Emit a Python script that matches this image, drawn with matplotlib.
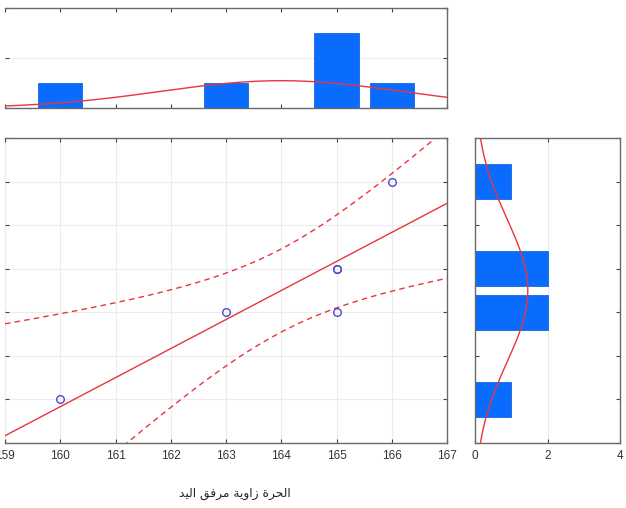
import numpy as np
import matplotlib
matplotlib.use("Agg")
import matplotlib.pyplot as plt

# ---- data -------------------------------------------------------------
elbow_angle = [160, 163, 165, 165, 165, 166]      # x variable
response = [12, 14, 14, 15, 15, 17]               # y variable
x_limits = (159, 167)
y_limits = (11, 18)
x_ticks = [159, 160, 161, 162, 163, 164, 165, 166, 167]
y_ticks = [11, 12, 13, 14, 15, 16, 17, 18]
count_ticks = [0, 2, 4]
x_title = "الحرة زاوية مرفق اليد"

BAR = "#0a6cff"
BAR_EDGE = "#0455d6"
RED = "#e8353d"
POINT = "#4a4ad2"
SPINE = "#6a6a6a"
GRID = "#ececec"
TXT = "#333333"

# ---- minimal Arabic shaping + right-to-left ordering ------------------
_FORMS = {  # isolated, final, initial, medial
    "ا": ("\uFE8D", "\uFE8E", None, None),
    "ل": ("\uFEDD", "\uFEDE", "\uFEDF", "\uFEE0"),
    "ح": ("\uFEA1", "\uFEA2", "\uFEA3", "\uFEA4"),
    "ر": ("\uFEAD", "\uFEAE", None, None),
    "ة": ("\uFE93", "\uFE94", None, None),
    "ز": ("\uFEAF", "\uFEB0", None, None),
    "و": ("\uFEED", "\uFEEE", None, None),
    "ي": ("\uFEF1", "\uFEF2", "\uFEF3", "\uFEF4"),
    "م": ("\uFEE1", "\uFEE2", "\uFEE3", "\uFEE4"),
    "ف": ("\uFED1", "\uFED2", "\uFED3", "\uFED4"),
    "ق": ("\uFED5", "\uFED6", "\uFED7", "\uFED8"),
    "د": ("\uFEA9", "\uFEAA", None, None),
}


def _shape_word(word):
    out = []
    for i, ch in enumerate(word):
        if ch not in _FORMS:
            out.append(ch)
            continue
        iso, fin, ini, med = _FORMS[ch]
        prev = word[i - 1] if i > 0 else None
        nxt = word[i + 1] if i + 1 < len(word) else None
        join_prev = prev in _FORMS and _FORMS[prev][2] is not None
        join_next = ini is not None and nxt in _FORMS
        if join_prev and join_next:
            out.append(med)
        elif join_prev:
            out.append(fin)
        elif join_next:
            out.append(ini)
        else:
            out.append(iso)
    return "".join(out)


def rtl(text):
    shaped = " ".join(_shape_word(w) for w in text.split(" "))
    return shaped[::-1]


plt.rcParams["font.family"] = ["Liberation Sans", "DejaVu Sans"]
plt.rcParams["font.size"] = 8.5

W, H = 626, 508
fig = plt.figure(figsize=(W / 100, H / 100), dpi=100)
fig.patch.set_facecolor("white")


def px_axes(left, top, right, bottom):
    return fig.add_axes([left / W, 1 - bottom / H, (right - left) / W, (bottom - top) / H])


ax = px_axes(5, 138, 447, 443)
ax_top = px_axes(5, 8, 447, 108)
ax_right = px_axes(475, 138, 620, 443)


def style(a):
    for s in a.spines.values():
        s.set_color(SPINE)
        s.set_linewidth(1.0)
    a.spines["left"].set_visible(False)
    a.tick_params(direction="in", length=3, width=0.8, color="#444444",
                  top=True, right=True, labelcolor=TXT, labelsize=8.5, pad=5)
    a.set_axisbelow(True)


x = np.asarray(elbow_angle, float)
y = np.asarray(response, float)
n = len(x)

# ---- main scatter with regression and 95% confidence band ------------
slope, intercept = np.polyfit(x, y, 1)
xx = np.linspace(x_limits[0], x_limits[1], 400)
yy = intercept + slope * xx
resid = y - (intercept + slope * x)
s = np.sqrt(np.sum(resid ** 2) / (n - 2))
t_crit = 2.776  # t(0.975, df=4)
sxx = np.sum((x - x.mean()) ** 2)
half = t_crit * s * np.sqrt(1 / n + (xx - x.mean()) ** 2 / sxx)

ax.grid(True, color=GRID, lw=0.8)
ax.plot(xx, yy, color=RED, lw=1.0)
ax.plot(xx, yy + half, color=RED, lw=1.0, ls=(0, (4, 3)))
ax.plot(xx, yy - half, color=RED, lw=1.0, ls=(0, (4, 3)))
ax.plot(x, y, ls="none", marker="o", ms=5.5, mfc="none", mec=POINT, mew=1.0)
ax.set_xlim(*x_limits)
ax.set_ylim(*y_limits)
ax.set_xticks(x_ticks)
ax.set_yticks(y_ticks)
style(ax)
ax.tick_params(labelleft=False)
ax.set_xlabel(rtl(x_title), family="DejaVu Sans", fontsize=8.8,
              color="#222222")
ax.xaxis.set_label_coords((235 - 5) / 442, -0.145)

# ---- top histogram of x ----------------------------------------------
xv, xc = np.unique(x, return_counts=True)
ax_top.grid(True, axis="y", color=GRID, lw=0.8)
ax_top.bar(xv, xc, width=0.8, color=BAR, edgecolor=BAR_EDGE, lw=0.5, zorder=2)
sx = x.std(ddof=1)
ax_top.plot(xx, n / (sx * np.sqrt(2 * np.pi)) * np.exp(-0.5 * ((xx - x.mean()) / sx) ** 2),
            color=RED, lw=1.0, zorder=3)
ax_top.set_xlim(*x_limits)
ax_top.set_ylim(count_ticks[0], count_ticks[-1])
ax_top.set_xticks(x_ticks)
ax_top.set_yticks(count_ticks)
style(ax_top)
ax_top.tick_params(labelbottom=False, labelleft=False)

# ---- right histogram of y --------------------------------------------
yv, yc = np.unique(y, return_counts=True)
ax_right.grid(True, axis="x", color=GRID, lw=0.8)
ax_right.barh(yv, yc, height=0.8, color=BAR, edgecolor=BAR_EDGE, lw=0.5, zorder=2)
sy = y.std(ddof=1)
yy2 = np.linspace(y_limits[0], y_limits[1], 400)
ax_right.plot(n / (sy * np.sqrt(2 * np.pi)) * np.exp(-0.5 * ((yy2 - y.mean()) / sy) ** 2),
              yy2, color=RED, lw=1.0, zorder=3)
ax_right.set_ylim(*y_limits)
ax_right.set_xlim(count_ticks[0], count_ticks[-1])
ax_right.set_xticks(count_ticks)
ax_right.set_yticks(y_ticks)
style(ax_right)
ax_right.spines["left"].set_visible(True)
ax_right.tick_params(labelleft=False)

fig.savefig("out.png", dpi=100, facecolor="white")
